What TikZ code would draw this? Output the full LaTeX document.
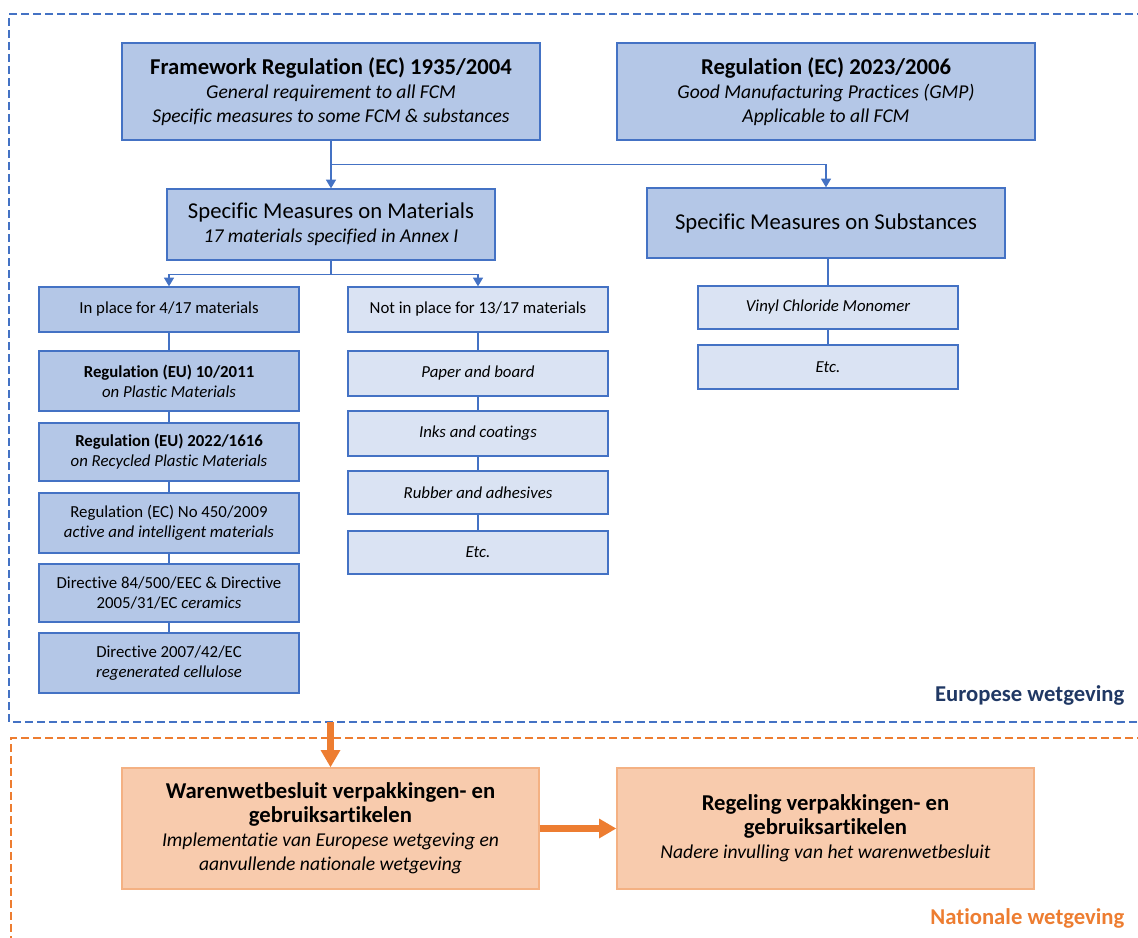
\documentclass[tikz,border=0pt]{standalone}
\usepackage{fontspec}
\setmainfont[Ligatures={NoCommon}]{Carlito}
\usetikzlibrary{arrows.meta}

\definecolor{eublue}{HTML}{4472C4}
\definecolor{eudark}{HTML}{B4C7E7}
\definecolor{eulight}{HTML}{DAE3F3}
\definecolor{eunavy}{HTML}{203864}
\definecolor{nlorange}{HTML}{ED7D31}
\definecolor{nlfill}{HTML}{F8CBAD}
\definecolor{nlline}{HTML}{F4B183}

\newcommand{\kop}[1]{{\fontsize{17}{19.5}\selectfont\bfseries #1}}

\tikzset{
	box/.style={draw=eublue, line width=1pt, rectangle, align=center, inner sep=2pt},
	darkbox/.style={box, fill=eudark},
	lightbox/.style={box, fill=eulight},
	bigtext/.style={font=\fontsize{14.7}{18}\selectfont},
	smalltext/.style={font=\fontsize{12.6}{15}\selectfont},
	natbox/.style={draw=nlline, fill=nlfill, line width=1pt, align=center, minimum width=312.75pt, minimum height=90.75pt, font=\fontsize{14.7}{18}\selectfont},
	link/.style={draw=eublue, line width=0.9pt},
	arr/.style={link, -{Triangle[width=7.5pt,length=6.5pt]}},
	natarr/.style={draw=nlorange, line width=5pt, -{Triangle[width=14pt,length=13pt]}}
}

\begin{document}
\begin{tikzpicture}[x=0.75pt,y=-0.75pt]

	\useasboundingbox (0,0) rectangle (1138,938);

	% Kaders
	\draw [eublue, line width=1.5pt, dash pattern=on 6pt off 3pt] (1145,14) -- (9,14) -- (9,722) -- (1145,722);
	\draw [nlorange, line width=1.5pt, dash pattern=on 6pt off 3pt] (1145,738) -- (11,738) -- (11,945);

	% Europese wetgeving
	\node [darkbox, bigtext, minimum width=313.5pt, minimum height=72.75pt] (fw) at (331,91.5)
		{\kop{Framework Regulation (EC) 1935/2004}\\\itshape General requirement to all FCM\\\itshape Specific measures to some FCM \& substances};
	\node [darkbox, bigtext, minimum width=313.5pt, minimum height=72.75pt] (gmp) at (826,91.5)
		{\kop{Regulation (EC) 2023/2006}\\\itshape Good Manufacturing Practices (GMP)\\\itshape Applicable to all FCM};

	\node [darkbox, bigtext, minimum width=246pt, minimum height=53.25pt] (mat) at (331,224.5)
		{{\fontsize{17}{20}\selectfont Specific Measures on Materials}\\\itshape 17 materials specified in Annex I};
	\node [darkbox, minimum width=268.5pt, minimum height=52.5pt, font=\fontsize{17}{20}\selectfont] (sub) at (826,223)
		{Specific Measures on Substances};

	% Materialen
	\node [darkbox, smalltext, minimum width=195pt, minimum height=33.75pt] (inplace) at (169,309.5) {In place for 4/17 materials};
	\node [darkbox, smalltext, minimum width=195pt, minimum height=45pt] (plastic) at (169,381)
		{\bfseries Regulation (EU) 10/2011\\\itshape on Plastic Materials};
	\node [darkbox, smalltext, minimum width=195pt, minimum height=43.5pt] (recycled) at (169,452)
		{\bfseries Regulation (EU) 2022/1616\\\itshape on Recycled Plastic Materials};
	\node [darkbox, smalltext, minimum width=195pt, minimum height=45pt] (active) at (169,523)
		{Regulation (EC) No 450/2009\\\itshape active and intelligent materials};
	\node [darkbox, smalltext, minimum width=195pt, minimum height=43.5pt] (ceramics) at (169,593)
		{Directive 84/500/EEC \& Directive\\2005/31/EC \textit{ceramics}};
	\node [darkbox, smalltext, minimum width=195pt, minimum height=45pt] (cellulose) at (169,663)
		{Directive 2007/42/EC\\\itshape regenerated cellulose};

	\node [lightbox, smalltext, minimum width=195pt, minimum height=33.75pt] (notin) at (478,309.5) {Not in place for 13/17 materials};
	\node [lightbox, smalltext, minimum width=195pt, minimum height=33.75pt] (paper) at (478,373.5) {\itshape Paper and board};
	\node [lightbox, smalltext, minimum width=195pt, minimum height=33.75pt] (inks) at (478,433.5) {\itshape Inks and coatings};
	\node [lightbox, smalltext, minimum width=195pt, minimum height=32.25pt] (rubber) at (478,492.5) {\itshape Rubber and adhesives};
	\node [lightbox, smalltext, minimum width=195pt, minimum height=32.25pt] (etcmat) at (478,552.5) {\itshape Etc.};

	% Stoffen
	\node [lightbox, smalltext, minimum width=195pt, minimum height=32.25pt] (vinyl) at (828,307.5) {\itshape Vinyl Chloride Monomer};
	\node [lightbox, smalltext, minimum width=195pt, minimum height=33pt] (etcsub) at (828,367) {\itshape Etc.};

	% Verbindingen
	\draw [arr] (fw.south) -- (mat.north);
	\draw [arr] (fw.south) ++(0,24) -| (sub.north);
	\draw [arr] (mat.south) -- ++(0,14) -| (inplace.north);
	\draw [arr] (mat.south) -- ++(0,14) -| (notin.north);
	\draw [link] (inplace) -- (plastic) -- (recycled) -- (active) -- (ceramics) -- (cellulose);
	\draw [link] (notin) -- (paper) -- (inks) -- (rubber) -- (etcmat);
	\draw [link] (sub.south -| vinyl.north) -- (vinyl) -- (etcsub);

	\node [anchor=east, text=eunavy, font=\fontsize{17}{20}\selectfont\bfseries] (eulabel) at (1129,695) {Europese wetgeving};

	% Nationale wetgeving
	\coordinate (eubottom) at (330.5,722);
	\node [natbox] (warenwet) at (330.5,828.5)
		{\kop{Warenwetbesluit verpakkingen- en}\\\kop{gebruiksartikelen}\\\itshape Implementatie van Europese wetgeving en\\\itshape aanvullende nationale wetgeving};
	\node [natbox] (regeling) at (825.5,828.5)
		{\kop{Regeling verpakkingen- en}\\\kop{gebruiksartikelen}\\\itshape Nadere invulling van het warenwetbesluit};

	\draw [natarr] (eubottom) -- (warenwet.north);
	\draw [natarr] (warenwet) -- (regeling);

	\node [anchor=east, text=nlorange, font=\fontsize{17}{20}\selectfont\bfseries] (nllabel) at (1129,918) {Nationale wetgeving};

\end{tikzpicture}
\end{document}
